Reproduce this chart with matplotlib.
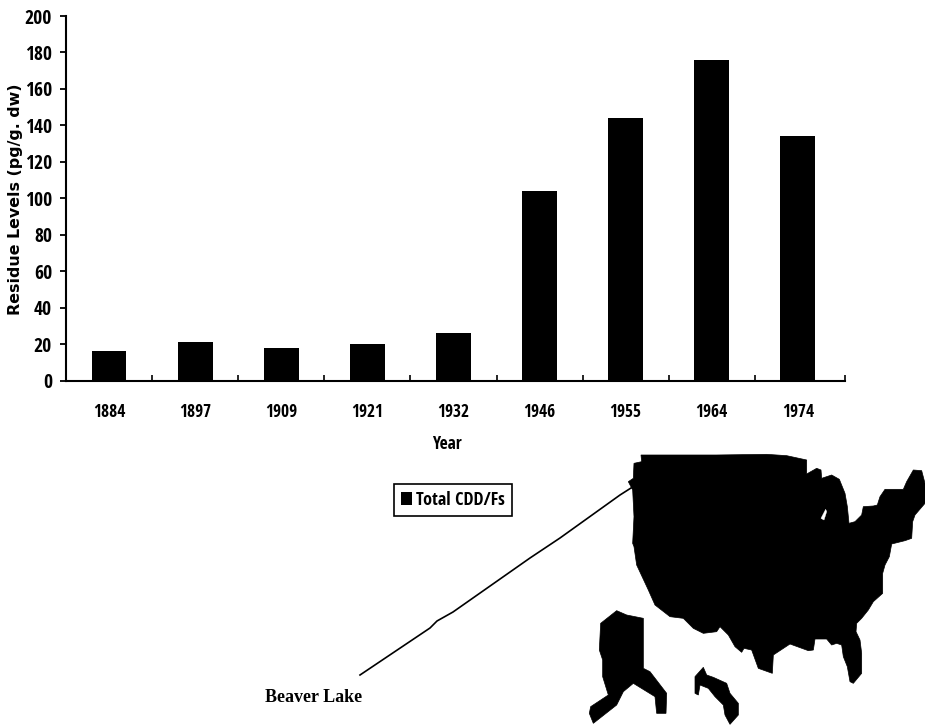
import matplotlib
matplotlib.use('Agg')
import matplotlib.pyplot as plt
from matplotlib import font_manager
from matplotlib.ticker import FixedLocator
from matplotlib.patches import Polygon

# chart values
years = ['1884', '1897', '1909', '1921', '1932', '1946', '1955', '1964', '1974']
total_cdd_fs = [16, 21, 18, 20, 26, 104, 144, 176, 134]
y_ticks = [0, 20, 40, 60, 80, 100, 120, 140, 160, 180, 200]

# map outlines
mainland = [(243,45),(420,45),(470,45),(620,43),(680,47),(740,60),(740,102),(770,85),(783,90),(785,115),
            (815,105),(838,118),(855,160),(862,200),(867,250),(885,245),(905,225),(910,200),(940,198),(952,195),
            (960,170),(975,148),(1030,148),(1040,125),(1060,90),(1085,92),(1095,130),(1095,190),(1065,225),(1058,245),
            (1055,295),(1035,302),(995,312),(988,350),(975,375),(968,400),(968,460),(940,485),(925,510),(905,535),
            (890,550),(888,575),(900,600),(905,640),(905,700),(880,730),(870,725),(862,680),(850,650),(845,615),
            (830,610),(815,615),(800,597),(765,597),(760,630),(745,632),(690,612),(640,645),(637,700),(595,685),
            (575,630),(552,625),(545,637),(525,620),(505,585),(480,560),(470,575),(430,580),(400,565),(370,535),
            (330,530),(285,495),(265,450),(230,375),(222,320),(218,310),(222,230),(218,150),(205,125),(220,115),
            (222,70),(245,65)]
lake = [(783,235),(797,208),(800,215),(792,240)]
alaska = [(122,550),(170,512),(200,525),(250,535),(250,685),(270,695),(320,760),(318,820),(290,820),(285,770),
          (220,730),(190,755),(170,795),(100,850),(88,820),(92,800),(145,765),(128,710),(128,660),(118,630)]
islands = [(405,710),(430,682),(440,705),(460,712),(500,730),(510,760),(535,790),(535,825),(510,853),(495,825),
           (490,795),(465,770),(445,745),(420,735),(415,765),(405,760)]
leader_x = [360, 430, 437, 453, 530, 560, 620, 631]
leader_y = [675, 628, 621, 612, 558, 538, 495, 488]

# narrowest installed sans for the squeezed looking digits
names = {f.name for f in font_manager.fontManager.ttflist}
narrow = 'Liberation Sans'
for candidate in ['Roboto', 'Roboto Condensed', 'Open Sans Condensed']:
    if candidate in names:
        narrow = candidate
narrow_font = font_manager.FontProperties(family=narrow, weight='light')

W, H = 925, 726


def to_px(points):
    # zoomed map coordinates back to picture pixels
    return [(560 + x / 3.0, 440 + y / 3.0) for x, y in points]


fig = plt.figure(figsize=(W / 100.0, H / 100.0), dpi=100)
ax = fig.add_axes([66.0 / W, 1 - 380.5 / H, (845.0 - 66.0) / W, (380.5 - 16.0) / H])

positions = list(range(len(years)))
bars = ax.bar(positions, total_cdd_fs, width=0.405, color='black', label='Total CDD/Fs')

# the columns sit a little tighter than the axis length, axis runs on past the last one
ax.set_xlim(-0.5, len(years) - 0.453)
ax.set_ylim(0, 200)
ax.spines['top'].set_visible(False)
ax.spines['right'].set_visible(False)
ax.spines['left'].set_linewidth(1.5)
ax.spines['bottom'].set_linewidth(1.5)

ax.set_yticks(y_ticks)
ax.tick_params(axis='y', length=4, width=1.3, pad=6)
ax.set_xticks(positions)
ax.set_xticklabels(years)
ax.tick_params(axis='x', which='major', length=0, pad=16)
ax.xaxis.set_minor_locator(FixedLocator([p + 0.5 for p in positions[:-1]] + [len(years) - 0.453]))
ax.tick_params(axis='x', which='minor', direction='in', length=4, width=1.2)
for label in ax.get_xticklabels():
    label.set_fontproperties(narrow_font)
    label.set_fontsize(12.5)
for label in ax.get_yticklabels():
    label.set_fontproperties(narrow_font)
    label.set_fontsize(14)

fig.text(447.0 / W, 1 - 444.0 / H, 'Year', fontproperties=narrow_font, fontsize=12.5, ha='center', va='center')
fig.text(16.0 / W, 1 - 199.0 / H, 'Residue Levels (pg/g. dw)', family='DejaVu Sans', fontweight='bold',
         fontsize=11.4, rotation=90, ha='center', va='center')
fig.text(314.0 / W, 1 - 697.0 / H, 'Beaver Lake', family='Liberation Serif', fontweight='bold',
         fontsize=13, ha='center', va='center')

legend_font = narrow_font.copy()
legend_font.set_size(13)
legend = fig.legend(handles=[bars], labels=['Total CDD/Fs'], loc='center', bbox_to_anchor=(453.0 / W, 1 - 500.0 / H),
                    fancybox=False, framealpha=1, edgecolor='black', prop=legend_font,
                    handlelength=0.6, handleheight=0.7, handletextpad=0.25, borderpad=0.4, borderaxespad=0)
legend.get_frame().set_linewidth(1.2)

# map and leader line go on a full figure overlay in pixel coordinates
overlay = fig.add_axes([0, 0, 1, 1], zorder=-1)
overlay.set_xlim(0, W)
overlay.set_ylim(H, 0)
overlay.axis('off')
overlay.add_patch(Polygon(to_px(mainland), closed=True, fc='black', ec='black', lw=0.5))
overlay.add_patch(Polygon(to_px(lake), closed=True, fc='white', ec='white', lw=0.3))
overlay.add_patch(Polygon(to_px(alaska), closed=True, fc='black', ec='black', lw=0.5))
overlay.add_patch(Polygon(to_px(islands), closed=True, fc='black', ec='black', lw=0.5))
overlay.plot(leader_x, leader_y, color='black', lw=1.2)

ax.patch.set_alpha(0)
fig.savefig('out.png', dpi=100)
